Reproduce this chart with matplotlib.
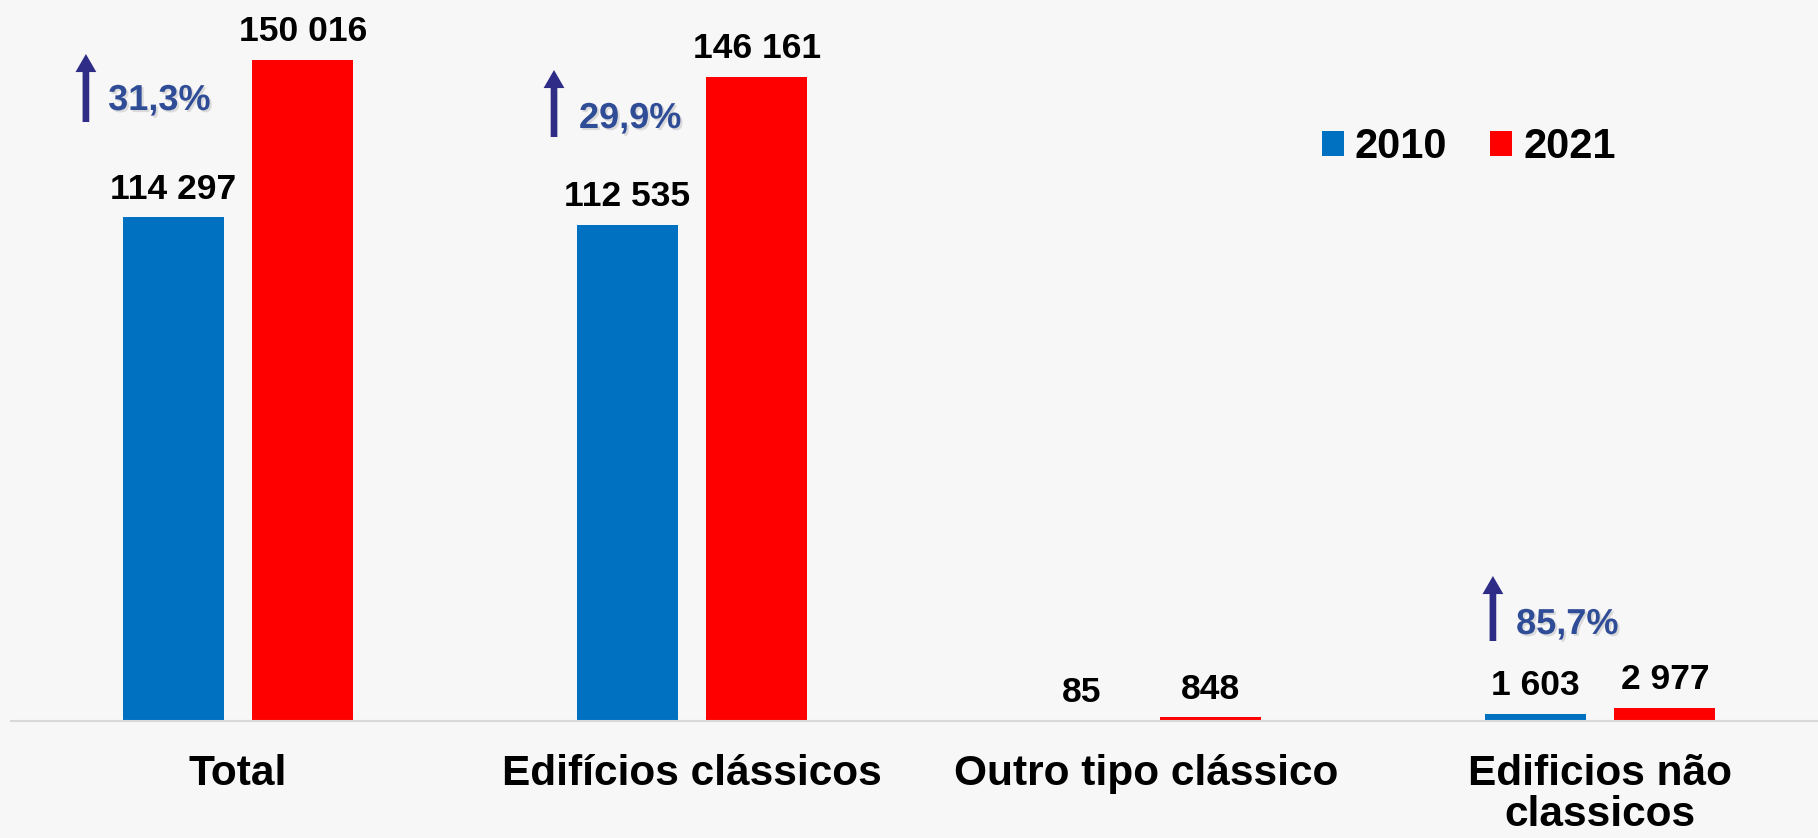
import numpy as np
import matplotlib.pyplot as plt
import matplotlib.patheffects as pe

# data
categories = ["Total", "Edifícios clássicos", "Outro tipo clássico", "Edificios não\nclassicos"]
years = ["2010", "2021"]
values_2010 = [114297, 112535, 85, 1603]
values_2021 = [150016, 146161, 848, 2977]
value_labels_2010 = ["114 297", "112 535", "85", "1 603"]
value_labels_2021 = ["150 016", "146 161", "848", "2 977"]

pct_labels = ["31,3%", "29,9%", "85,7%"]

BLUE = "#0070C0"
RED = "#FF0000"
BG = "#F7F7F7"
PCT_TXT = "#2F4C97"
PCT_ARROW = "#2E2C86"

plt.rcParams['font.family'] = ['Liberation Sans', 'DejaVu Sans']

fig = plt.figure(figsize=(18.18, 8.38), dpi=100, facecolor=BG)
ax = fig.add_axes([11 / 1818, 117 / 838, 1 - 11 / 1818, 1 - 117 / 838])
ax.set_facecolor(BG)

x = np.arange(len(categories))
w = 0.2225
off = 0.1425
b1 = ax.bar(x - off, values_2010, w, color=BLUE, label=years[0])
b2 = ax.bar(x + off, values_2021, w, color=RED, label=years[1])

for bars, labs in ((b1, value_labels_2010), (b2, value_labels_2021)):
    for bar, lab in zip(bars, labs):
        ax.annotate(lab, (bar.get_x() + bar.get_width() / 2, bar.get_height()),
                    xytext=(0, 13.5), textcoords="offset points",
                    ha="center", va="baseline", fontsize=25.5, fontweight="bold")

ax.set_xlim(-0.5, 3.48)
ax.set_ylim(0, 163633)

# growth arrows + percentages (tail, tip, text anchor in data units)
arrows = [((-0.335, 135943), (-0.335, 151376), (-0.286, 138666)),
          ((0.696, 132539), (0.696, 147744), (0.751, 134581)),
          ((2.764, 18156), (2.764, 32908), (2.815, 19745))]
for (tail, tip, tpos), lab in zip(arrows, pct_labels):
    ax.annotate("", xy=tip, xytext=tail,
                arrowprops=dict(arrowstyle="simple,head_width=0.75,head_length=0.65,tail_width=0.24",
                                mutation_scale=20, lw=0, color=PCT_ARROW,
                                shrinkA=0, shrinkB=0))
    ax.text(tpos[0], tpos[1], lab, fontsize=26, fontweight="bold", color=PCT_TXT,
            ha="left", va="baseline",
            path_effects=[pe.SimplePatchShadow(offset=(1.5, -1.5), shadow_rgbFace="#999999", alpha=0.3),
                          pe.Normal()])

ax.set_xticks(x)
ax.set_xticklabels(categories, fontsize=30.5, fontweight="bold", linespacing=1.05)
ax.tick_params(axis="x", length=0, pad=23.5)
ax.set_yticks([])
for s in ("top", "right", "left"):
    ax.spines[s].set_visible(False)
ax.spines["bottom"].set_color("#D9D9D9")
ax.spines["bottom"].set_linewidth(1.5)

leg = ax.legend(loc="center left", bbox_to_anchor=(1322 / 1818, 1 - 147 / 838),
                bbox_transform=fig.transFigure, ncol=2, frameon=False,
                prop={"weight": "bold", "size": 30},
                handlelength=0.53, handleheight=0.53, handletextpad=0.26,
                columnspacing=1.03, borderpad=0, borderaxespad=0)

fig.savefig("out.png", dpi=100, facecolor=BG)
